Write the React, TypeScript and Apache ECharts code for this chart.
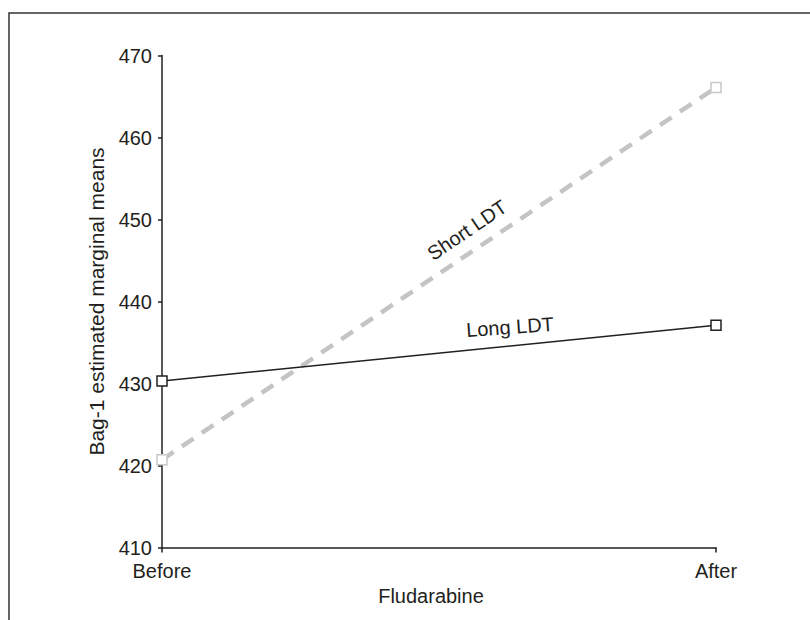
import React, { useEffect, useRef } from "react";
import * as echarts from "echarts";

const categories = ["Before", "After"];
const longLDT = [430.3, 437.1];
const shortLDT = [420.7, 466.1];
const yTicks = { min: 410, max: 470, interval: 10 };
const xAxisName = "Fludarabine";
const yAxisName = "Bag-1 estimated marginal means";
const seriesNames = ["Long LDT", "Short LDT"];

const FONT = "'Liberation Sans', Arial, Helvetica, sans-serif";
const TEXT = "#231f20";
const FS = 20;

export default function App() {
  const ref = useRef<HTMLDivElement>(null);
  useEffect(() => {
    if (!ref.current) return;
    const chart = echarts.init(ref.current, undefined, { renderer: "svg" });
    chart.setOption({
      animation: false,
      backgroundColor: "#ffffff",
      grid: { left: 162, right: 94, top: 55.5, bottom: 72.5 },
      xAxis: {
        type: "category",
        data: categories,
        boundaryGap: false,
        name: xAxisName,
        nameLocation: "middle",
        nameGap: 38,
        nameTextStyle: { fontFamily: FONT, fontSize: FS, color: TEXT, padding: [0, 16, 0, 0] },
        axisLine: { lineStyle: { color: TEXT, width: 1.5 } },
        axisTick: { show: true, length: 5, inside: false, lineStyle: { color: TEXT, width: 1.5 } },
        axisLabel: { fontFamily: FONT, fontSize: FS, color: TEXT, margin: 13 },
        splitLine: { show: false },
      },
      yAxis: {
        type: "value",
        min: yTicks.min,
        max: yTicks.max,
        interval: yTicks.interval,
        name: yAxisName,
        nameLocation: "middle",
        nameGap: 55,
        nameTextStyle: { fontFamily: FONT, fontSize: 21, color: TEXT },
        axisLine: { show: true, lineStyle: { color: TEXT, width: 1.5 } },
        axisTick: { show: true, length: 4, lineStyle: { color: TEXT, width: 1.5 } },
        axisLabel: { fontFamily: FONT, fontSize: FS, color: TEXT, margin: 10 },
        splitLine: { show: false },
      },
      series: [
        {
          name: seriesNames[0],
          type: "line",
          data: longLDT,
          symbol: "rect",
          symbolSize: 10,
          showAllSymbol: true,
          z: 3,
          lineStyle: { color: TEXT, width: 1.5 },
          itemStyle: { color: "#ffffff", borderColor: TEXT, borderWidth: 1.5 },
        },
        {
          name: seriesNames[1],
          type: "line",
          data: shortLDT,
          symbol: "rect",
          symbolSize: 10,
          showAllSymbol: true,
          z: 2,
          lineStyle: { color: "#c4c4c4", width: 4.5, type: [14, 10] },
          itemStyle: { color: "#ffffff", borderColor: "#c8c8c8", borderWidth: 1.5 },
        },
      ],
      graphic: [
        {
          type: "rect",
          shape: { x: 9, y: 13, width: 900, height: 700 },
          style: { fill: "none", stroke: "#333333", lineWidth: 1.5 },
          silent: true,
          z: -1,
        },
        {
          type: "text",
          x: 467,
          y: 230,
          rotation: (34 * Math.PI) / 180,
          style: {
            text: seriesNames[1],
            fontFamily: FONT,
            fontSize: FS,
            fill: TEXT,
            align: "center",
            verticalAlign: "middle",
          },
        },
        {
          type: "text",
          x: 510,
          y: 327,
          rotation: (4 * Math.PI) / 180,
          style: {
            text: seriesNames[0],
            fontFamily: FONT,
            fontSize: FS,
            fill: TEXT,
            align: "center",
            verticalAlign: "middle",
          },
        },
      ],
    });
    return () => chart.dispose();
  }, []);
  return (
    <div
      ref={ref}
      style={{ position: "fixed", left: 0, top: 0, width: 810, height: 620 }}
    />
  );
}
